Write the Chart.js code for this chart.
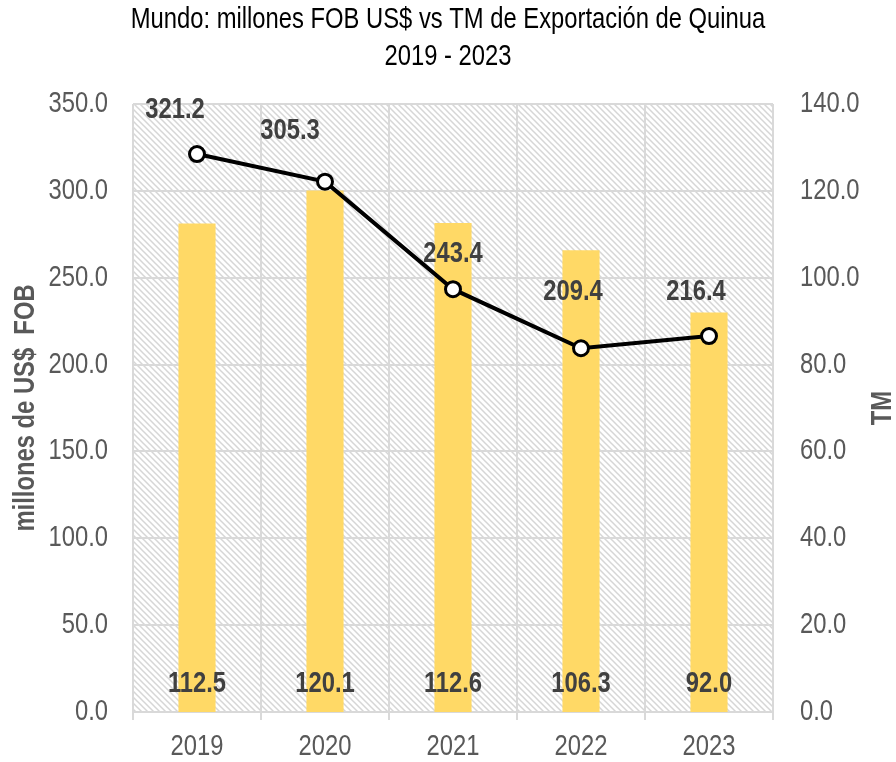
<!DOCTYPE html>
<html lang="es">
<head>
    <meta charset="UTF-8">
    <title>Quinua</title>
    <script src="https://cdn.jsdelivr.net/npm/chart.js@4.4.1/dist/chart.umd.min.js"></script>
    <style>
        body { margin: 0; background: #fff; }
    </style>
</head>
<body>
    <canvas id="myChart" width="896" height="762"></canvas>
    <script>
        // datos
        const years = ['2019', '2020', '2021', '2022', '2023'];
        const fobMillones = [321.2, 305.3, 243.4, 209.4, 216.4];
        const toneladas = [112.5, 120.1, 112.6, 106.3, 92.0];
        const titleLines = ['Mundo: millones FOB US$ vs TM de Exportación de Quinua', '2019 - 2023'];

        const FONT = "'Liberation Sans', Arial, sans-serif";
        const NARROW = 0.82;  // no hay Arial Narrow, se comprime a mano
        const GRID = '#d9d9d9';
        const TEXT = '#595959';
        const LABEL = '#404040';

        // desplazamiento manual de las etiquetas de la linea (px)
        const lineLabelShift = [[-22, -44], [-35, -51], [0, -35], [-8, -56], [-13, -44]];

        function text(ctx, str, x, y, font, color, align, rot) {
            ctx.save();
            ctx.translate(x, y);
            if (rot) ctx.rotate(rot);
            ctx.scale(NARROW, 1);
            ctx.font = font;
            ctx.fillStyle = color;
            ctx.textAlign = align || 'center';
            ctx.textBaseline = 'middle';
            ctx.fillText(str, 0, 0);
            ctx.restore();
        }

        function hatch() {
            const s = 6;
            const c = document.createElement('canvas');
            c.width = s; c.height = s;
            const g = c.getContext('2d');
            g.fillStyle = '#fff';
            g.fillRect(0, 0, s, s);
            g.strokeStyle = '#d6d6d6';
            g.lineWidth = 1.5;
            g.beginPath();
            g.moveTo(-1, -1); g.lineTo(s + 1, s + 1);
            g.moveTo(-1, s - 1); g.lineTo(1, s + 1);
            g.moveTo(s - 1, -1); g.lineTo(s + 1, 1);
            g.stroke();
            return c;
        }

        const background = {
            id: 'background',
            beforeDraw(chart) {
                const { ctx, chartArea: a } = chart;
                ctx.save();
                ctx.fillStyle = ctx.createPattern(hatch(), 'repeat');
                ctx.fillRect(a.left, a.top, a.right - a.left, a.bottom - a.top);
                ctx.restore();
            }
        };

        const texts = {
            id: 'texts',
            afterDraw(chart) {
                const { ctx, chartArea: a, scales } = chart;
                const tick = '29px ' + FONT;
                const bold = 'bold 29px ' + FONT;

                text(ctx, titleLines[0], 448, 20, tick, '#000');
                text(ctx, titleLines[1], 448, 57, tick, '#000');

                scales.y.ticks.forEach(t => {
                    text(ctx, t.value.toFixed(1), a.left - 25, scales.y.getPixelForValue(t.value), tick, TEXT, 'right');
                });
                scales.y2.ticks.forEach(t => {
                    text(ctx, t.value.toFixed(1), a.right + 27, scales.y2.getPixelForValue(t.value), tick, TEXT, 'left');
                });
                years.forEach((yr, i) => {
                    text(ctx, yr, scales.x.getPixelForValue(i), a.bottom + 35, tick, TEXT);
                });

                chart.getDatasetMeta(1).data.forEach((bar, i) => {
                    text(ctx, toneladas[i].toFixed(1), bar.x, a.bottom - 28, bold, LABEL);
                });
                chart.getDatasetMeta(0).data.forEach((pt, i) => {
                    const [dx, dy] = lineLabelShift[i];
                    text(ctx, fobMillones[i].toFixed(1), pt.x + dx, pt.y + dy, bold, LABEL);
                });

                // titulos de ejes
                const mid = (a.top + a.bottom) / 2;
                text(ctx, 'millones de US$  FOB', 26, mid, bold, TEXT, 'center', -Math.PI / 2);
                text(ctx, 'TM', 883, mid, bold, TEXT, 'center', -Math.PI / 2);
            }
        };

        const ctx = document.getElementById('myChart').getContext('2d');
        const myChart = new Chart(ctx, {
            data: {
                labels: years,
                datasets: [{
                    type: 'line',
                    label: 'millones FOB US$',
                    data: fobMillones,
                    yAxisID: 'y',
                    borderColor: '#000',
                    borderWidth: 4,
                    pointRadius: 7.5,
                    pointBorderWidth: 3,
                    pointBackgroundColor: '#fff',
                    pointBorderColor: '#000',
                    tension: 0,
                    order: 0
                }, {
                    type: 'bar',
                    label: 'TM',
                    data: toneladas,
                    yAxisID: 'y2',
                    backgroundColor: '#ffd966',
                    categoryPercentage: 1,
                    barPercentage: 0.29,
                    order: 1
                }]
            },
            options: {
                responsive: false,
                animation: false,
                layout: { padding: { top: 104 } },
                plugins: {
                    legend: { display: false },
                    tooltip: { enabled: false },
                    title: { display: false }
                },
                scales: {
                    x: {
                        offset: true,
                        grid: { offset: true, color: GRID, lineWidth: 2, tickLength: 8 },
                        border: { color: GRID, width: 2 },
                        ticks: { display: false },
                        afterFit(s) { s.height = 50; }
                    },
                    y: {
                        position: 'left',
                        min: 0,
                        max: 350,
                        grid: { color: GRID, lineWidth: 2, drawTicks: false },
                        border: { display: false },
                        ticks: { stepSize: 50, display: false },
                        afterFit(s) { s.width = 133; }
                    },
                    y2: {
                        position: 'right',
                        min: 0,
                        max: 140,
                        grid: { display: false, drawTicks: false },
                        border: { display: false },
                        ticks: { stepSize: 20, display: false },
                        afterFit(s) { s.width = 123; }
                    }
                }
            },
            plugins: [background, texts]
        });
    </script>
</body>
</html>
